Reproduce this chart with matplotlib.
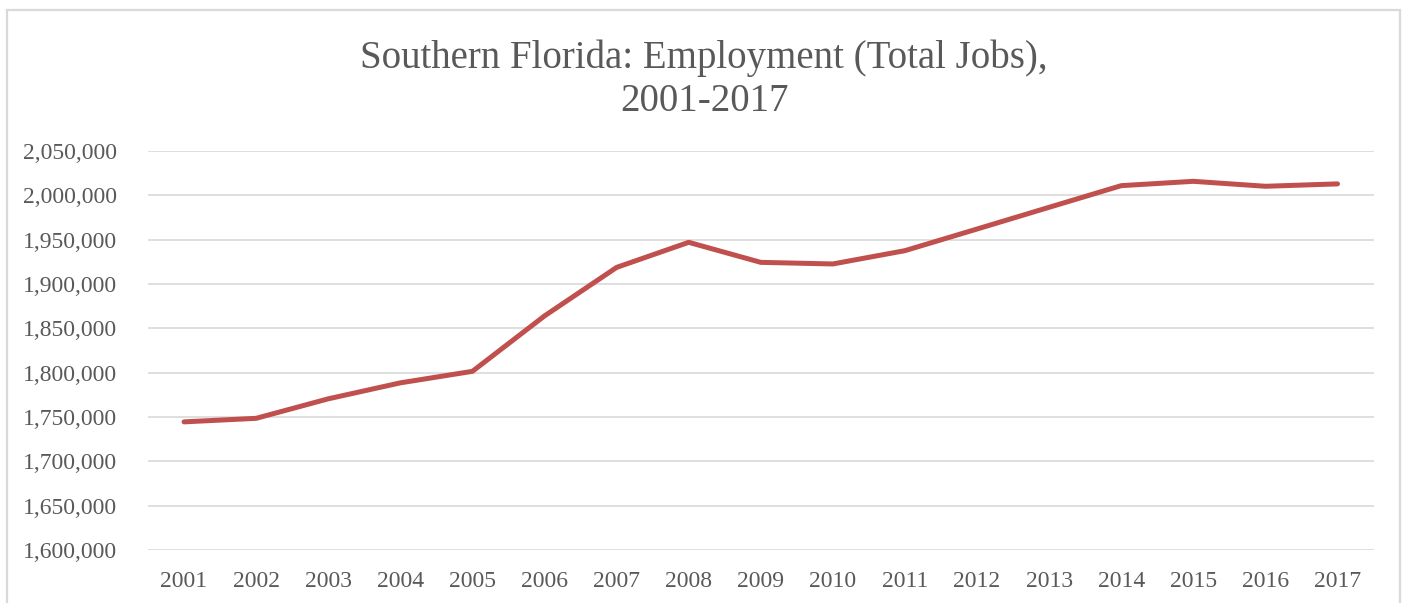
#!/usr/bin/env python3
# -*- coding: utf-8 -*-

import matplotlib
matplotlib.use("Agg")
from matplotlib import pyplot as plt
from matplotlib.ticker import FuncFormatter
from matplotlib.patches import Rectangle

# Data
years = ["2001", "2002", "2003", "2004", "2005", "2006", "2007", "2008", "2009",
         "2010", "2011", "2012", "2013", "2014", "2015", "2016", "2017"]
jobs = [1744500, 1748500, 1770500, 1788500, 1801500, 1864000, 1918700, 1947000,
        1924400, 1922600, 1937600, 1962000, 1986500, 2010900, 2015800, 2010200,
        2012900]
y_ticks = list(range(1600000, 2050001, 50000))
title = "Southern Florida: Employment (Total Jobs),\n2001-2017"

text_color = "#595959"
grid_color = "#D9D9D9"
line_color = "#C0504D"

plt.rcParams['font.family'] = ['Liberation Serif', 'DejaVu Serif']

fig = plt.figure(figsize=(14.03, 6.03), dpi=100)
ax = fig.add_axes([0.1055, 0.0879, 0.8735, 0.6617])

x = list(range(len(years)))
ax.plot(x, jobs, color=line_color, linewidth=3.6, solid_capstyle='round',
        solid_joinstyle='round', zorder=3)

ax.set_xlim(-0.5, len(years) - 0.5)
ax.set_ylim(y_ticks[0], y_ticks[-1])
ax.set_xticks(x)
ax.set_xticklabels(years)
ax.set_yticks(y_ticks)
ax.yaxis.set_major_formatter(FuncFormatter(lambda v, p: f"{int(v):,}"))

ax.tick_params(axis='both', length=0, labelsize=17, labelcolor=text_color)
ax.tick_params(axis='y', pad=22)
ax.tick_params(axis='x', pad=15)
ax.grid(axis='y', color=grid_color, linewidth=1.2)
ax.set_axisbelow(True)
for s in ax.spines.values():
    s.set_visible(False)

fig.text(0.502, 0.868, title, ha='center', va='center', fontsize=28,
         color=text_color, linespacing=1.2)

# light chart-area border (bottom edge is cut off in the reference)
fig.patches.append(Rectangle((7 / 1403, -0.05), 1393 / 1403, 1.05 - 10 / 603,
                             transform=fig.transFigure, fill=False,
                             edgecolor=grid_color, linewidth=1.6))

plt.savefig('out.png', dpi=100)
plt.close()
